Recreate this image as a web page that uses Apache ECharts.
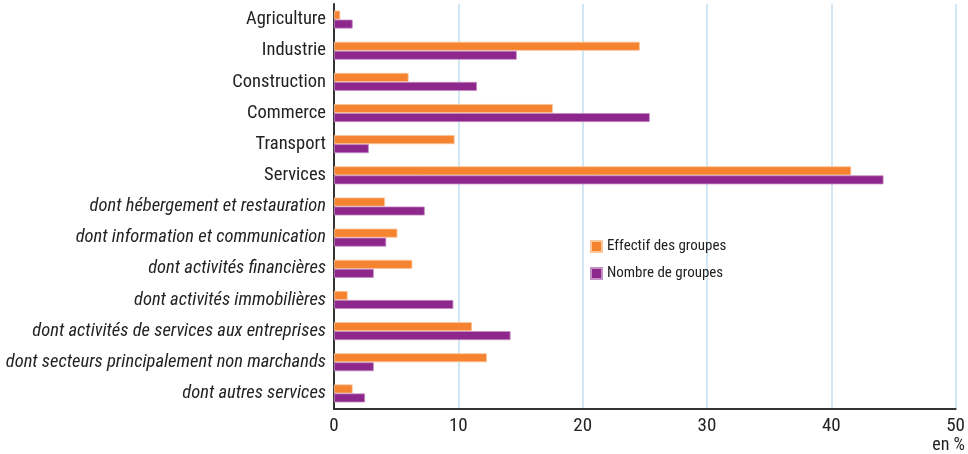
<!DOCTYPE html>
<html><head><meta charset="utf-8">
<script src="https://cdn.jsdelivr.net/npm/echarts@6/dist/echarts.min.js"></script>
<style>html,body{margin:0;padding:0;background:#fff}#c{width:968px;height:454px}</style>
</head><body><div id="c"></div>
<script>
const categories = ["Agriculture","Industrie","Construction","Commerce","Transport","Services",
  "dont hébergement et restauration","dont information et communication","dont activités financières",
  "dont activités immobilières","dont activités de services aux entreprises",
  "dont secteurs principalement non marchands","dont autres services"];
const effectif = [0.5,24.6,6.0,17.6,9.7,41.6,4.1,5.1,6.3,1.1,11.1,12.3,1.5];
const nombre = [1.5,14.7,11.5,25.4,2.8,44.2,7.3,4.2,3.2,9.6,14.2,3.2,2.5];
const seriesNames = ["Effectif des groupes","Nombre de groupes"];
const xTicks = {min:0,max:50,interval:10};
const unitLabel = "en %";

const FONT = "'Liberation Sans Narrow','Roboto Condensed','Liberation Sans',sans-serif";
const chart = echarts.init(document.getElementById('c'));
chart.setOption({
  animation:false,
  textStyle:{fontFamily:FONT},
  grid:{left:334,right:12,top:4,bottom:45,containLabel:false},
  legend:{
    orient:'vertical', left:585, top:234, itemWidth:11, itemHeight:11, itemGap:12,
    icon:'rect',
    textStyle:{fontFamily:FONT,fontSize:15,color:'#222'},
    data:seriesNames
  },
  graphic:[{type:'text',right:3,top:436,style:{text:unitLabel,font:"18px "+FONT,fill:'#222'}}],
  xAxis:{
    type:'value', min:xTicks.min, max:xTicks.max, interval:xTicks.interval,
    axisLine:{show:true,lineStyle:{color:'#333',width:2}},
    axisTick:{show:false},
    axisLabel:{fontFamily:FONT,fontSize:19,color:'#222',margin:8},
    splitLine:{show:true,lineStyle:{color:'#c3dff0',width:1.5}}
  },
  yAxis:{
    type:'category', inverse:true, data:categories,
    axisLine:{show:true,lineStyle:{color:'#333',width:2}},
    axisTick:{show:false},
    axisLabel:{
      fontFamily:FONT,fontSize:18.5,color:'#222',margin:8,
      formatter:function(v){return v.indexOf('dont')===0?'{i|'+v+'}':'{n|'+v+'}';},
      rich:{i:{fontStyle:'italic',fontFamily:FONT,fontSize:18.5,color:'#222'},n:{fontFamily:FONT,fontSize:18.5,color:'#222'}}
    }
  },
  series:[
    {name:seriesNames[0],type:'bar',data:effectif,barWidth:9,barGap:'0%',
     itemStyle:{color:'#f5832f',borderColor:'#fbc59d',borderWidth:0.8}},
    {name:seriesNames[1],type:'bar',data:nombre,barWidth:9,barGap:'0%',
     itemStyle:{color:'#8e278c',borderColor:'#c48fc3',borderWidth:0.8}}
  ]
});
</script></body></html>
